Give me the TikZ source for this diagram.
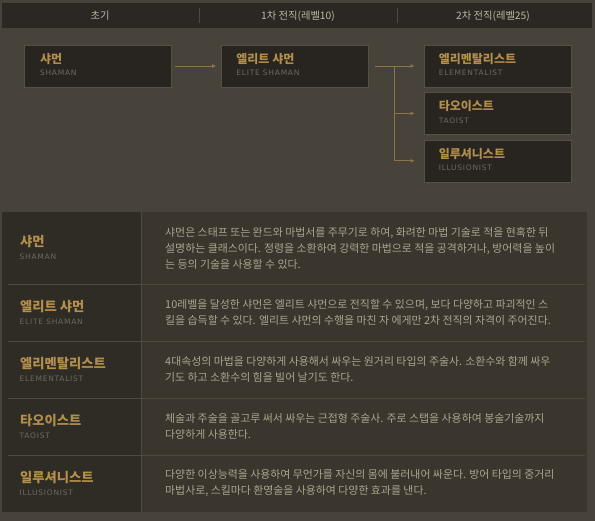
\documentclass[tikz,border=0pt]{standalone}
\usepackage{fontspec}
\usetikzlibrary{arrows.meta,positioning}
\newfontfamily\krfont{Noto Sans CJK KR}
\newfontfamily\subfont[LetterSpace=10]{DejaVu Sans}
\definecolor{bgc}{HTML}{48433A}
\definecolor{barc}{HTML}{2B2722}
\definecolor{boxc}{HTML}{28241F}
\definecolor{boxline}{HTML}{55503F}
\definecolor{gold}{HTML}{B38F4C}
\definecolor{subc}{HTML}{6F6A5D}
\definecolor{hdrtxt}{HTML}{BDB7A6}
\definecolor{desctxt}{HTML}{ACA48F}
\definecolor{leftc}{HTML}{2F2B25}
\definecolor{rightc}{HTML}{3A362E}
\definecolor{sepc}{HTML}{4F4A3E}
\definecolor{arrowc}{HTML}{8C744A}

\begin{document}
\begin{tikzpicture}[x=1pt,y=-1pt,
	box/.style={draw=boxline,fill=boxc,minimum width=147pt,minimum height=42pt,inner sep=0pt},
	ttl/.style={text=gold,font=\krfont\bfseries\fontsize{12}{12}\selectfont,inner sep=0pt,anchor=base west},
	sub/.style={text=subc,font=\subfont\fontsize{7.5}{7.5}\selectfont,inner sep=0pt,anchor=base west},
	rttl/.style={ttl,font=\krfont\bfseries\fontsize{13.3}{13.3}\selectfont},
	hdr/.style={text=hdrtxt,font=\krfont\fontsize{10.3}{10.3}\selectfont,inner sep=0pt},
	desc/.style={text=desctxt,font=\krfont\fontsize{10.9}{16}\selectfont,inner sep=0pt,anchor=west,align=left},
	link/.style={draw=arrowc,line width=0.8pt},
	arr/.style={link,-{Latex[length=4pt,width=4pt]}},
	sep/.style={draw=sepc,line width=0.6pt}]
	%background
	\fill[bgc] (0,0) rectangle (595,521);
	\useasboundingbox (0,0) rectangle (595,521);

	%header bar
	\fill[barc] (2,3) rectangle (592,28);
	\draw[sep] (199,8) -- (199,23); %separator 1
	\draw[sep] (397,8) -- (397,23); %separator 2
	\node[hdr] (h-init) at (100,16) {초기};
	\node[hdr] (h-first) at (298,16) {1차 전직(레벨10)};
	\node[hdr] (h-second) at (493,16) {2차 전직(레벨25)};

	%class tree
	\node[box] (shaman) at (97.5,66) {};
	\node[box,right=50pt of shaman] (elite) {};
	\node[box,right=55pt of elite] (elem) {};
	\node[box,below=5pt of elem] (taoist) {};
	\node[box,below=5pt of taoist] (illu) {};

	\node[ttl] (shaman-t) at ([shift={(16,-2.5)}]shaman.west) {샤먼};
	\node[sub] (shaman-s) at ([shift={(16,10)}]shaman.west) {SHAMAN};
	\node[ttl] (elite-t) at ([shift={(15,-2.5)}]elite.west) {엘리트 샤먼};
	\node[sub] (elite-s) at ([shift={(15,10)}]elite.west) {ELITE SHAMAN};
	\node[ttl] (elem-t) at ([shift={(15,-2.5)}]elem.west) {엘리멘탈리스트};
	\node[sub] (elem-s) at ([shift={(15,10)}]elem.west) {ELEMENTALIST};
	\node[ttl] (taoist-t) at ([shift={(15,-2.5)}]taoist.west) {타오이스트};
	\node[sub] (taoist-s) at ([shift={(15,10)}]taoist.west) {TAOIST};
	\node[ttl] (illu-t) at ([shift={(15,-2.5)}]illu.west) {일루셔니스트};
	\node[sub] (illu-s) at ([shift={(15,10)}]illu.west) {ILLUSIONIST};

	%connectors
	\coordinate[right=26pt of elite] (fork);
	\draw[arr,shorten <=4pt,shorten >=5pt] (shaman) -- (elite); %first job
	\draw[link,shorten <=6pt] (elite) -- (fork); %stem
	\draw[arr,shorten >=9pt] (fork) -- (elem); %branch 1
	\draw[arr,shorten >=9pt] (fork) |- (taoist); %branch 2
	\draw[arr,shorten >=9pt] (fork) |- (illu); %branch 3

	%description panel
	\fill[leftc] (2,212) rectangle (141,512);
	\fill[rightc] (141,212) rectangle (587,512);
	\draw[sep] (141,212) -- (141,512); %column border
	\draw[sep] (8,284) -- (585,284);
	\draw[sep] (8,341) -- (585,341);
	\draw[sep] (8,398) -- (585,398);
	\draw[sep] (8,455) -- (585,455);

	%row 1
	\node[rttl] (r1-t) at (20,247) {샤먼};
	\node[sub] (r1-s) at (19.5,260) {SHAMAN};
	\node[desc] (r1-d) at (165,248) {샤먼은 스태프 또는 완드와 마법서를 주무기로 하여, 화려한 마법 기술로 적을 현혹한 뒤\\설명하는 클래스이다. 정령을 소환하여 강력한 마법으로 적을 공격하거나, 방어력을 높이\\는 등의 기술을 사용할 수 있다.};
	%row 2
	\node[rttl] (r2-t) at (20,311.5) {엘리트 샤먼};
	\node[sub] (r2-s) at (19.5,324.5) {ELITE SHAMAN};
	\node[desc] (r2-d) at (165,312.5) {10레벨을 달성한 샤먼은 엘리트 샤먼으로 전직할 수 있으며, 보다 다양하고 파괴적인 스\\킬을 습득할 수 있다. 엘리트 샤먼의 수행을 마친 자 에게만 2차 전직의 자격이 주어진다.};
	%row 3
	\node[rttl] (r3-t) at (20,368.5) {엘리멘탈리스트};
	\node[sub] (r3-s) at (19.5,381.5) {ELEMENTALIST};
	\node[desc] (r3-d) at (165,369.5) {4대속성의 마법을 다양하게 사용해서 싸우는 원거리 타입의 주술사. 소환수와 함께 싸우\\기도 하고 소환수의 힘을 빌어 날기도 한다.};
	%row 4
	\node[rttl] (r4-t) at (20,425.5) {타오이스트};
	\node[sub] (r4-s) at (19.5,438.5) {TAOIST};
	\node[desc] (r4-d) at (165,426.5) {체술과 주술을 골고루 써서 싸우는 근접형 주술사. 주로 스탭을 사용하여 봉술기술까지\\다양하게 사용한다.};
	%row 5
	\node[rttl] (r5-t) at (20,482.5) {일루셔니스트};
	\node[sub] (r5-s) at (19.5,495.5) {ILLUSIONIST};
	\node[desc] (r5-d) at (165,483.5) {다양한 이상능력을 사용하여 무언가를 자신의 몸에 불러내어 싸운다. 방어 타입의 중거리\\마법사로, 스킬마다 환영술을 사용하여 다양한 효과를 낸다.};
\end{tikzpicture}
\end{document}
